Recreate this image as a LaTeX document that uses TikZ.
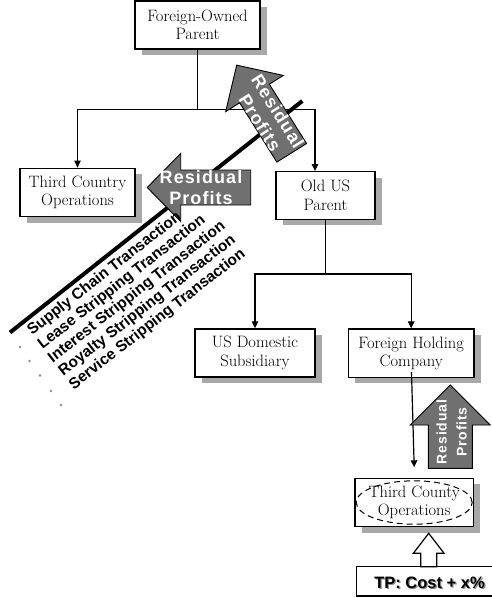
\documentclass[tikz,border=0pt]{standalone}
\usepackage{fontspec}
\newfontfamily\lsans{Liberation Sans}
\newfontfamily\lsansls{Liberation Sans}[LetterSpace=6]
\usetikzlibrary{arrows.meta,shadows}
\definecolor{arrowgray}{RGB}{112,112,112}
\definecolor{shadowgray}{RGB}{168,168,168}
\newcommand\fatarrowpath[4]{(0,-#4) -- (#1-#2,-#4) -- (#1-#2,-#3) -- (#1,0) -- (#1-#2,#3) -- (#1-#2,#4) -- (0,#4) -- cycle}
\tikzset{
  box/.style={draw=black, line width=1.4pt, fill=white, inner sep=0pt, align=center,
    font=\fontsize{16.5}{18.5}\selectfont,
    drop shadow={shadow xshift=7pt, shadow yshift=-6pt, fill=shadowgray, opacity=1}},
  plainbox/.style={draw=black, line width=1.4pt, fill=white, inner sep=0pt},
  conn/.style={line width=1.2pt, draw=black},
  tip/.style={-{Triangle[length=7pt,width=6.5pt]}},
  fat/.style={draw=black, line width=0.9pt, fill=arrowgray},
  hollow/.style={draw=black, line width=1.2pt, fill=white},
  fattext/.style={text=white, font=\lsansls\bfseries\fontsize{18}{21}\selectfont, align=center, inner sep=0pt},
  smallfattext/.style={text=white, font=\lsansls\bfseries\fontsize{14}{20}\selectfont, align=center, inner sep=0pt},
  listtext/.style={font=\lsans\bfseries\fontsize{15.5}{17}\selectfont, rotate=38, anchor=base west, inner sep=0pt},
  tptext/.style={font=\lsans\bfseries\fontsize{16.5}{20}\selectfont, inner sep=0pt},
}
\begin{document}
\begin{tikzpicture}[x=1pt,y=-1pt]
\clip (0,0) rectangle (492,598);
\fill[white] (0,0) rectangle (492,598);

% thick diagonal line
\coordinate (bl1) at (10,332.5);
\coordinate (bl2) at (302.3,101);
\draw[line width=4pt] (bl1) -- (bl2);

% boxes
\node[box, minimum width=125pt, minimum height=48pt] (fop) at (197.5,25) {Foreign-Owned\\Parent};
\node[box, minimum width=115pt, minimum height=48.4pt] (tco) at (77.5,192.5) {Third Country\\Operations};
\node[box, minimum width=99pt, minimum height=47.6pt] (oup) at (325.5,195.5) {Old US\\Parent};
\node[box, minimum width=120pt, minimum height=48pt] (usd) at (255,353) {US Domestic\\Subsidiary};
\node[box, minimum width=125.7pt, minimum height=48.3pt] (fhc) at (411.2,353.2) {Foreign Holding\\Company};
\node[box, minimum width=118.3pt, minimum height=48.4pt] (tco2) at (414.2,502.5) {Third County\\Operations};
\draw[line width=1pt, dash pattern=on 6pt off 4pt] (tco2.center) ellipse [x radius=58pt, y radius=21.7pt];
\node[plainbox, minimum width=143.3pt, minimum height=29.3pt] (tp) at (428.35,581.35) {};
\node[tptext, text=black!45] (tpsh) at (430.8,584.3) {TP: Cost + x\%};
\node[tptext] (tptx) at (429.5,583) {TP: Cost + x\%};

% connectors
\coordinate (j1) at (197.5,109.5);
\coordinate (j2) at (325.5,274);
\draw[conn] (fop.south) -- (j1);
\draw[conn,tip] (j1) -| (tco.north);
\draw[conn,tip] (j1) -| ([xshift=-10.5pt]oup.north);
\draw[conn] (oup.south) -- (j2);
\draw[conn,tip] (j2) -| (usd.north);
\draw[conn,tip] (j2) -| (fhc.north);
\draw[conn,tip] ([xshift=0.3pt,yshift=-19pt]fhc.center) -- ([xshift=0pt,yshift=10.3pt]tco2.north);

% gray fat arrows
\begin{scope}[shift={(291.7,152.8)}, rotate=122.1]
  \draw[fat] \fatarrowpath{103.5}{33.5}{34}{17.5};
\end{scope}
\node[fattext, rotate=-57.9] (rp1) at (269,117) {Residual\\Profits};

\begin{scope}[shift={(250.7,187.5)}, rotate=180]
  \draw[fat] \fatarrowpath{103.5}{33.5}{34}{17.5};
\end{scope}
\node[fattext] (rp2) at (201,188) {Residual\\Profits};

\begin{scope}[shift={(450.3,468.3)}, rotate=90]
  \draw[fat] \fatarrowpath{83.3}{40}{40}{22};
\end{scope}
\node[smallfattext, rotate=90] (rp3) at (451.5,432) {Residual\\Profits};

% hollow arrow
\begin{scope}[shift={(428.7,566.7)}, rotate=90]
  \draw[hollow] \fatarrowpath{33.4}{20}{15.4}{8};
\end{scope}

% list
\node[listtext] (l1) at (32,336) {Supply Chain Transaction};
\node[listtext] (l2) at (42.4,349.6) {Lease Stripping Transaction};
\node[listtext] (l3) at (52.8,363.2) {Interest Stripping Transaction};
\node[listtext] (l4) at (63.2,376.8) {Royalty Stripping Transaction};
\node[listtext] (l5) at (73.6,390.4) {Service Stripping Transaction};
\foreach \p in {(20,347),(29.5,361),(40,375.5),(51,391),(61,405)}
  \fill[black!45] \p circle[radius=1.3pt];
\end{tikzpicture}
\end{document}
